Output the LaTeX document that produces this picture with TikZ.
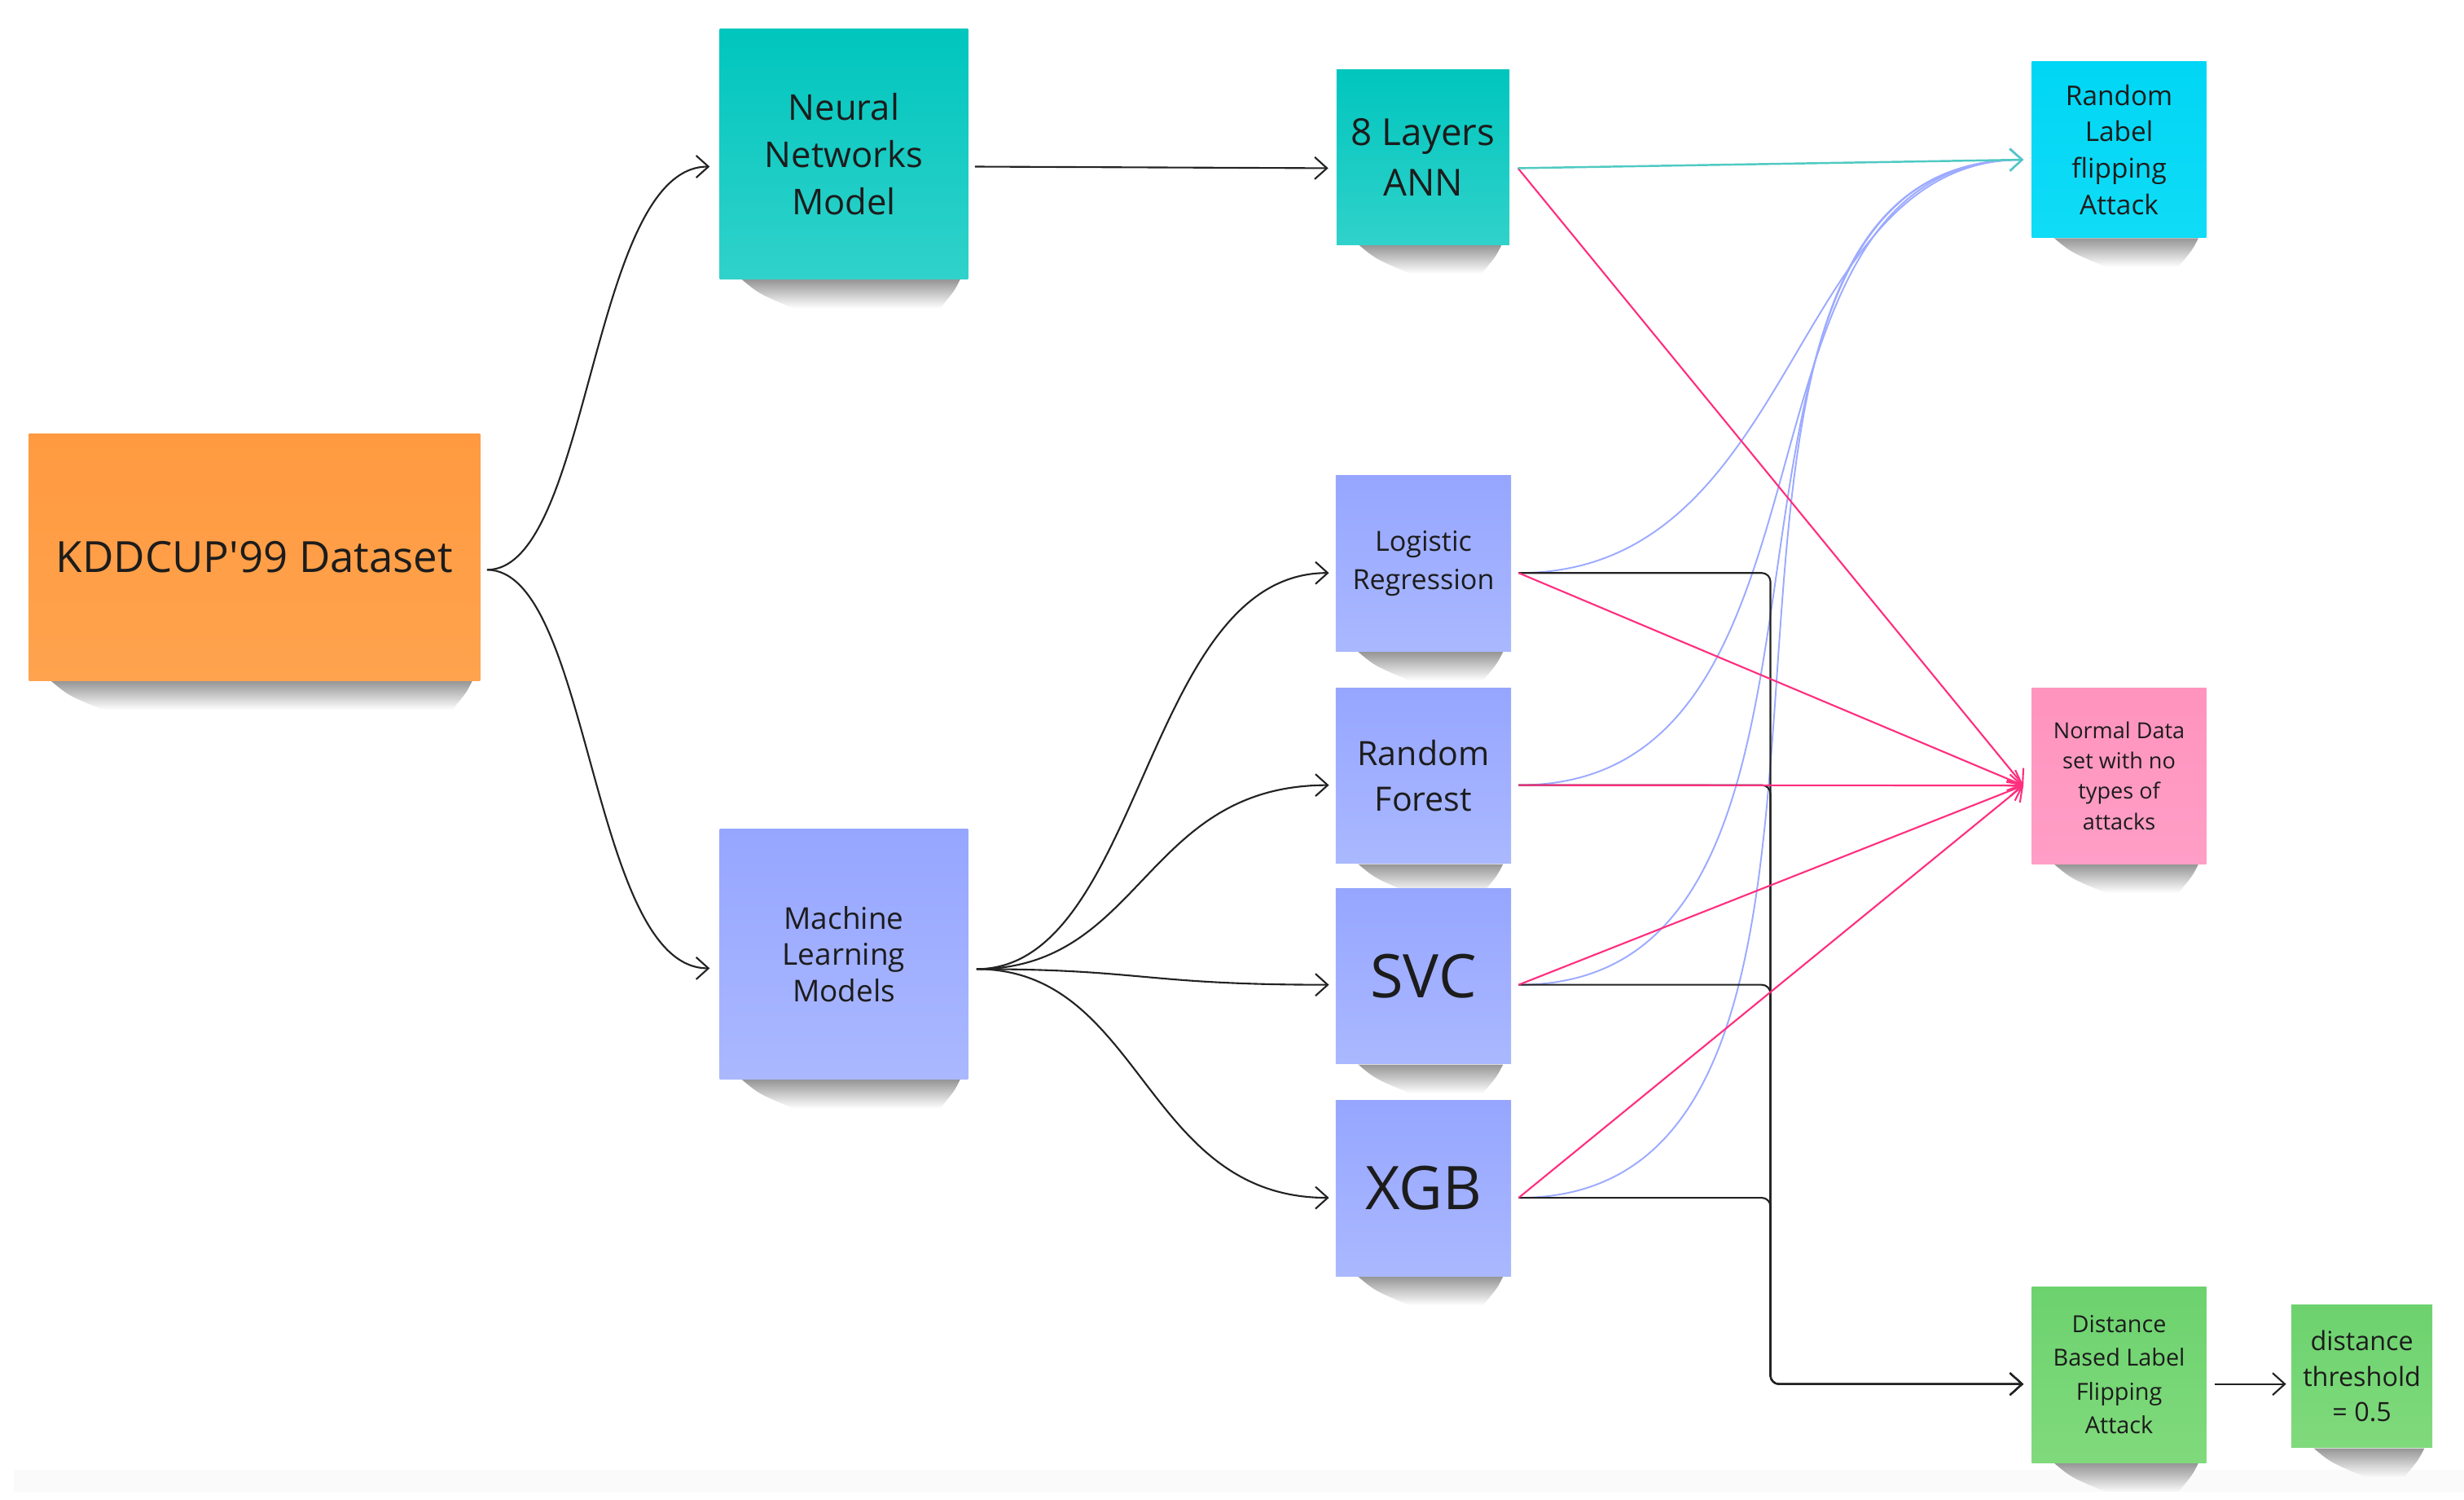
\documentclass[tikz,border=0pt]{standalone}
\usepackage{fontspec}
\setmainfont{Open Sans}
\usetikzlibrary{arrows.meta,fadings,backgrounds}
\definecolor{ink}{HTML}{1C1C1C}
\definecolor{orT}{HTML}{FF9A40}
\definecolor{orB}{HTML}{FFA34E}
\definecolor{tlT}{HTML}{00C6BE}
\definecolor{tlB}{HTML}{30D2CA}
\definecolor{pwT}{HTML}{96A6FF}
\definecolor{pwB}{HTML}{AAB8FF}
\definecolor{cyT}{HTML}{00D6F5}
\definecolor{cyB}{HTML}{10DCF6}
\definecolor{pkT}{HTML}{FF94BE}
\definecolor{pkB}{HTML}{FF9EC6}
\definecolor{grT}{HTML}{6CD26E}
\definecolor{grB}{HTML}{80DA7C}
\definecolor{blk}{HTML}{222222}
\definecolor{pinkline}{HTML}{FF2E7E}
\definecolor{blueline}{HTML}{9CAAFF}
\definecolor{tealline}{HTML}{4FCAC2}
\definecolor{band}{HTML}{FAFAFA}
\tikzfading[name=shfade, top color=transparent!45, bottom color=transparent!100]
\begin{document}
\begin{tikzpicture}[x={(0.019293cm,0)},y={(0,-0.019293cm)},
  note/.style={inner sep=0pt, align=center, text=ink},
  small/.style={note, minimum width=2.15cm, minimum height=2.155cm},
  big/.style={note, minimum width=3.048cm, minimum height=3.068cm},
  orangefill/.style={top color=orT, bottom color=orB},
  tealfill/.style={top color=tlT, bottom color=tlB},
  perifill/.style={top color=pwT, bottom color=pwB},
  cyanfill/.style={top color=cyT, bottom color=cyB},
  pinkfill/.style={top color=pkT, bottom color=pkB},
  greenfill/.style={top color=grT, bottom color=grB},
  notesh/.style={fill=black!75, path fading=shfade},
  arr/.style={-{Straight Barb[length=1.5mm,width=2.7mm]}},
  blkedge/.style={arr, draw=blk, line width=0.6pt},
  pinkedge/.style={arr, draw=pinkline, line width=0.6pt},
  blueedge/.style={arr, draw=blueline, line width=0.55pt},
  tealedge/.style={arr, draw=tealline, line width=0.7pt}]
\useasboundingbox (0,0) rectangle (1568,953.8);

% nodes
\node[note, orangefill, minimum width=5.537cm, minimum height=3.029cm, font=\fontsize{15}{20}\selectfont] (kdd) at (162,354.5) {KDDCUP\textquotesingle 99 Dataset};
\node[big, tealfill, font=\fontsize{12.4}{16.5}\selectfont] (nn) at (537,98) {Neural\\Networks\\Model};
\node[big, perifill, font=\fontsize{10.5}{12.7}\selectfont] (ml) at (537,607) {Machine\\Learning\\Models};
\node[small, tealfill, minimum width=2.122cm, minimum height=2.142cm, font=\fontsize{13}{17.5}\selectfont] (ann) at (905.6,100) {8 Layers\\ANN};
\node[small, perifill, font=\fontsize{9.7}{13.2}\selectfont] (lr) at (905.8,358.5) {Logistic\\Regression};
\node[small, perifill, font=\fontsize{11.7}{16}\selectfont] (rf) at (905.8,493.5) {Random\\Forest};
\node[small, perifill, font=\fontsize{21}{25}\selectfont] (svc) at (905.8,621) {SVC};
\node[small, perifill, font=\fontsize{21}{25}\selectfont] (xgb) at (905.8,756) {XGB};
\node[small, cyanfill, minimum width=2.141cm, minimum height=2.159cm, font=\fontsize{9.5}{12.7}\selectfont] (rlf) at (1348.5,95.2) {Random\\Label\\flipping\\Attack};
\node[small, pinkfill, minimum width=2.141cm, minimum height=2.16cm, font=\fontsize{7.7}{10.6}\selectfont] (nd) at (1348.5,493.5) {Normal Data\\set with no\\types of\\attacks};
\node[small, greenfill, minimum width=2.141cm, minimum height=2.16cm, font=\fontsize{8.2}{11.7}\selectfont] (dist) at (1348.5,874.5) {Distance\\Based Label\\Flipping\\Attack};
\node[note, greenfill, minimum width=1.73cm, minimum height=1.756cm, font=\fontsize{9.2}{12.4}\selectfont] (thr) at (1503,875.5) {distance\\threshold\\= 0.5};

% page background and sticky-note shadows under each note
\begin{scope}[on background layer]
\fill[white] (0,0) rectangle (1568,953.8);
\fill[band] (9,935) rectangle (1568,949);
\foreach \n in {kdd,nn,ml,ann,lr,rf,svc,xgb,rlf,nd,dist,thr}{
  \path[notesh] ([xshift=8pt]\n.south west) -- ([xshift=-3pt]\n.south east)
     .. controls ([xshift=-5pt,yshift=-4pt]\n.south east) .. ([xshift=-10pt,yshift=-10pt]\n.south east)
     -- ([xshift=26pt,yshift=-10pt]\n.south west)
     .. controls ([xshift=14pt,yshift=-5pt]\n.south west) .. cycle;
}
\end{scope}

% connector end points
\coordinate (kddo) at ([shift={(4,8)}]kdd.east);
\coordinate (nni) at ([shift={(-6,8)}]nn.west);
\coordinate (nno) at ([shift={(4,8)}]nn.east);
\coordinate (mli) at ([shift={(-6,9)}]ml.west);
\coordinate (mlo) at ([shift={(5,9.5)}]ml.east);
\coordinate (anni) at ([shift={(-5,7)}]ann.west);
\coordinate (anno) at ([shift={(5,7)}]ann.east);
\coordinate (lri) at ([shift={(-4,6)}]lr.west);
\coordinate (lro) at ([shift={(4.5,6)}]lr.east);
\coordinate (rfi) at ([shift={(-4,6)}]rf.west);
\coordinate (rfo) at ([shift={(4.5,6)}]rf.east);
\coordinate (svci) at ([shift={(-4,5.5)}]svc.west);
\coordinate (svco) at ([shift={(4.5,5.5)}]svc.east);
\coordinate (xgbi) at ([shift={(-4,6)}]xgb.west);
\coordinate (xgbo) at ([shift={(4.5,6)}]xgb.east);
\coordinate (rlfi) at ([shift={(-5,6.4)}]rlf.west);
\coordinate (ndi) at ([shift={(-5,6.2)}]nd.west);
\coordinate (disti) at ([shift={(-5,6)}]dist.west);
\coordinate (disto) at ([shift={(5,6)}]dist.east);
\coordinate (thri) at ([shift={(-3,5)}]thr.west);
\coordinate (bus) at (1126.6,0);

% left part
\draw[blkedge] (kddo) .. controls +(66,0) and +(-76,0) .. (nni);
\draw[blkedge] (kddo) .. controls +(66,0) and +(-76,0) .. (mli);
\draw[blkedge] (nno) -- (anni);
\draw[blkedge] (mlo) .. controls +(106,0) and +(-118,0) .. (lri);
\draw[blkedge] (mlo) .. controls +(106,0) and +(-118,0) .. (rfi);
\draw[blkedge] (mlo) .. controls +(106,0) and +(-118,0) .. (svci);
\draw[blkedge] (mlo) .. controls +(106,0) and +(-118,0) .. (xgbi);

% blue curves to random label flipping
\draw[blueedge] (lro) .. controls +(180,0) and +(-150,0) .. (rlfi);
\draw[blueedge] (rfo) .. controls +(220,0) and +(-200,0) .. (rlfi);
\draw[blueedge] (svco) .. controls +(250,0) and +(-240,0) .. (rlfi);
\draw[blueedge] (xgbo) .. controls +(280,0) and +(-270,0) .. (rlfi);

% black bus to distance based
\draw[blkedge, rounded corners=3pt] (lro) -| (bus |- disti) -- (disti);
\draw[blkedge, rounded corners=3pt] (rfo) -| (bus |- disti) -- (disti);
\draw[blkedge, rounded corners=3pt] (svco) -| (bus |- disti) -- (disti);
\draw[blkedge, rounded corners=3pt] (xgbo) -| (bus |- disti) -- (disti);
\draw[blkedge] (disto) -- (thri);

% pink lines to normal data
\draw[pinkedge] (anno) -- (ndi);
\draw[pinkedge] (lro) -- (ndi);
\draw[pinkedge] (rfo) -- (ndi);
\draw[pinkedge] (svco) -- (ndi);
\draw[pinkedge] (xgbo) -- (ndi);

% teal line
\draw[tealedge] (anno) -- (rlfi);
\end{tikzpicture}
\end{document}
